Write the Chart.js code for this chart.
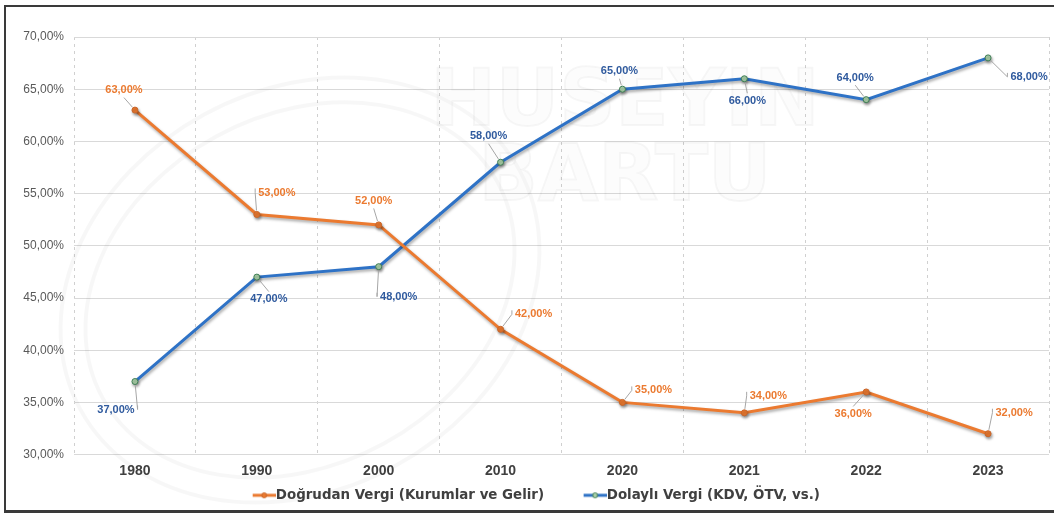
<!DOCTYPE html>
<html>
<head>
<meta charset="utf-8">
<script src="https://cdn.jsdelivr.net/npm/chart.js@4"></script>
<style>
    html, body { margin: 0; padding: 0; background: #fff; overflow: hidden; }
    #wrap { position: relative; width: 1054px; height: 513px; }
    #frame {
        position: absolute; left: 4px; top: 5px; width: 1100px; height: 508px;
        box-sizing: border-box; border-top: 2px solid #3a3a3a; border-left: 2px solid #3a3a3a;
        border-bottom: 3px solid #3a3a3a; pointer-events: none;
    }
</style>
</head>
<body>
<div id="wrap">
    <canvas id="vergiChart" width="1054" height="513"></canvas>
    <div id="frame"></div>
</div>
<script>
// Veriler
const years = ['1980', '1990', '2000', '2010', '2020', '2021', '2022', '2023'];
const dogrudanVergi = [63, 53, 52, 42, 35, 34, 36, 32];
const dolayliVergi = [37, 47, 48, 58, 65, 66, 64, 68];
const seriesNames = ['Doğrudan Vergi (Kurumlar ve Gelir)', 'Dolaylı Vergi (KDV, ÖTV, vs.)'];
const yMin = 30, yMax = 70, yStep = 5;

// etiket kaydirmalari (etiket merkezi - nokta), piksel
const dogrudanLabelOffsets = [[-11, -20], [20, -22], [-5, -24], [33, -15], [31, -12], [24, -17], [-13, 22], [26, -21]];
const dolayliLabelOffsets = [[-19, 28], [12, 22], [20, 30], [-12, -26], [-3, -18], [3, 22], [-11, -22], [41, 19]];

const ORANGE = '#EB7A30';
const BLUE = '#2E72C6';

function pct(v) {
    return v.toFixed(2).replace('.', ',') + '%';
}

// legend icin cizgi + nokta (solda bosluk birakiliyor)
const ICON_BOX = 50;
function legendIcon(lineColor, fill, stroke) {
    const c = document.createElement('canvas');
    c.width = ICON_BOX + 13; c.height = 10;
    const g = c.getContext('2d');
    g.strokeStyle = lineColor; g.lineWidth = 3;
    g.beginPath(); g.moveTo(c.width - 23, 5); g.lineTo(c.width, 5); g.stroke();
    g.beginPath(); g.arc(c.width - 11.5, 5, 2.5, 0, Math.PI * 2);
    g.fillStyle = fill; g.fill();
    g.lineWidth = 1; g.strokeStyle = stroke; g.stroke();
    return c;
}
const legendIcons = [legendIcon(ORANGE, ORANGE, '#c8662a'), legendIcon(BLUE, '#a9cfa8', '#3f7e55')];

// arka plandaki silik yazi
const watermark = {
    id: 'watermark',
    beforeDatasetsDraw(chart) {
        const ctx = chart.ctx;
        ctx.save();
        ctx.strokeStyle = 'rgba(0,0,0,0.03)';
        ctx.lineWidth = 4;
        ctx.beginPath();
        ctx.ellipse(300, 290, 250, 200, -0.5, 0, Math.PI * 2);
        ctx.stroke();
        ctx.beginPath();
        ctx.ellipse(300, 290, 225, 175, -0.5, 0, Math.PI * 2);
        ctx.stroke();
        ctx.font = 'bold 78px "DejaVu Sans"';
        ctx.textAlign = 'center';
        ctx.textBaseline = 'middle';
        ctx.fillStyle = 'rgba(0,0,0,0.012)';
        ctx.strokeStyle = 'rgba(0,0,0,0.035)';
        ctx.lineWidth = 2;
        ctx.fillText('HUSEYIN', 625, 105);
        ctx.strokeText('HUSEYIN', 625, 105);
        ctx.fillText('BARTU', 625, 180);
        ctx.strokeText('BARTU', 625, 180);
        ctx.restore();
    }
};

// cizgi golgesi
const lineShadow = {
    id: 'lineShadow',
    beforeDatasetDraw(chart) {
        const ctx = chart.ctx;
        ctx.save();
        ctx.shadowColor = 'rgba(0,0,0,0.35)';
        ctx.shadowBlur = 3;
        ctx.shadowOffsetX = 1;
        ctx.shadowOffsetY = 2;
    },
    afterDatasetDraw(chart) {
        chart.ctx.restore();
    }
};

// legendi biraz kaydir
const legendShift = {
    id: 'legendShift',
    afterLayout(chart) {
        const lg = chart.legend;
        lg.left -= 14;
        lg.top -= 1;
        lg.bottom -= 1;
    }
};

// veri etiketleri + kilavuz cizgileri
const valueLabels = {
    id: 'valueLabels',
    afterDatasetsDraw(chart) {
        const ctx = chart.ctx;
        const offsets = [dogrudanLabelOffsets, dolayliLabelOffsets];
        const colors = [ORANGE, '#2F5A9E'];
        ctx.save();
        ctx.font = 'bold 11px "Liberation Sans"';
        ctx.textAlign = 'center';
        ctx.textBaseline = 'middle';
        chart.data.datasets.forEach((ds, i) => {
            const meta = chart.getDatasetMeta(i);
            meta.data.forEach((pt, j) => {
                const [dx, dy] = offsets[i][j];
                const text = pct(ds.data[j]);
                const w = ctx.measureText(text).width;
                const h = 11;
                const lx = pt.x + dx, ly = pt.y + dy;
                let ex, ey;
                if (Math.abs(dx) > w / 2) {
                    ex = lx - Math.sign(dx) * (w / 2 + 3);
                    ey = ly;
                } else {
                    ex = lx;
                    ey = ly - Math.sign(dy) * (h / 2 + 2);
                }
                const len = Math.hypot(ex - pt.x, ey - pt.y);
                if (len > 8) {
                    const sx = pt.x + (ex - pt.x) * 4 / len;
                    const sy = pt.y + (ey - pt.y) * 4 / len;
                    ctx.strokeStyle = '#a6a6a6';
                    ctx.lineWidth = 1;
                    ctx.beginPath();
                    ctx.moveTo(sx, sy);
                    ctx.lineTo(ex, ey);
                    if (Math.abs(dx) > w / 2) {
                        ctx.lineTo(ex, ey - 4);
                    }
                    ctx.stroke();
                }
                ctx.fillStyle = colors[i];
                ctx.fillText(text, lx, ly);
            });
        });
        ctx.restore();
    }
};

const ctx = document.getElementById('vergiChart').getContext('2d');
const vergiChart = new Chart(ctx, {
    type: 'line',
    data: {
        labels: years,
        datasets: [{
            label: seriesNames[0],
            data: dogrudanVergi,
            borderColor: ORANGE,
            backgroundColor: ORANGE,
            borderWidth: 3,
            pointRadius: 3,
            pointBackgroundColor: ORANGE,
            pointBorderColor: '#c8662a',
            pointBorderWidth: 1,
            tension: 0
        }, {
            label: seriesNames[1],
            data: dolayliVergi,
            borderColor: BLUE,
            backgroundColor: BLUE,
            borderWidth: 3,
            pointRadius: 3,
            pointBackgroundColor: '#a9cfa8',
            pointBorderColor: '#3f7e55',
            pointBorderWidth: 1,
            tension: 0
        }]
    },
    options: {
        responsive: false,
        animation: false,
        layout: { padding: { top: 37, right: 1, bottom: 0, left: 0 } },
        scales: {
            x: {
                offset: true,
                grid: {
                    offset: true,
                    color: '#d0d0d0',
                    drawTicks: false
                },
                border: { display: false, dash: [3, 4] },
                ticks: {
                    padding: 8,
                    color: '#404040',
                    font: { family: 'Liberation Sans', size: 14, weight: 'bold' }
                },
                afterFit(scale) { scale.height = 29; }
            },
            y: {
                min: yMin,
                max: yMax,
                grid: { color: '#d9d9d9', drawTicks: false },
                border: { display: false },
                ticks: {
                    stepSize: yStep,
                    padding: 10,
                    color: '#595959',
                    font: { family: 'Liberation Sans', size: 12 },
                    callback: (v) => pct(v)
                },
                afterFit(scale) { scale.width = 74; }
            }
        },
        plugins: {
            legend: {
                position: 'bottom',
                labels: {
                    padding: 6,
                    usePointStyle: true,
                    pointStyleWidth: ICON_BOX,
                    boxHeight: 10,
                    color: '#404040',
                    font: { family: 'DejaVu Sans', size: 13.4, weight: 'bold' },
                    generateLabels(chart) {
                        const items = Chart.defaults.plugins.legend.labels.generateLabels(chart);
                        items.forEach((it, k) => { it.pointStyle = legendIcons[k]; });
                        return items;
                    }
                }
            },
            tooltip: { enabled: false }
        }
    },
    plugins: [watermark, lineShadow, legendShift, valueLabels]
});
</script>
</body>
</html>
